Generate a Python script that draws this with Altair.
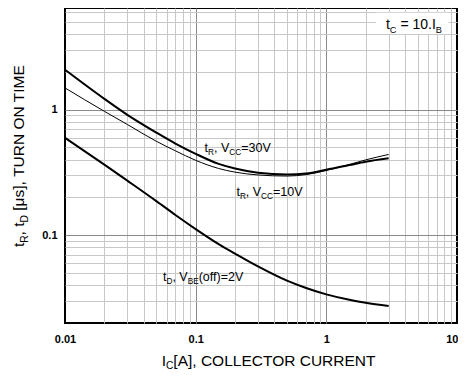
import altair as alt
import pandas as pd

# ---------------- data ----------------
ic = [0.01, 0.02, 0.03, 0.05, 0.07, 0.1, 0.15, 0.2, 0.3, 0.5, 0.7, 1.0, 1.5, 2.0, 3.0]
tr_30v = [2.08, 1.22, 0.91, 0.657, 0.537, 0.445, 0.37, 0.34, 0.315, 0.305, 0.31, 0.332, 0.362, 0.385, 0.41]
tr_10v = [1.49, 0.97, 0.762, 0.56, 0.47, 0.395, 0.34, 0.318, 0.302, 0.296, 0.304, 0.328, 0.366, 0.398, 0.44]
td_2v = [0.596, 0.365, 0.272, 0.187, 0.145, 0.112, 0.085, 0.0715, 0.0565, 0.0435, 0.038, 0.0338, 0.0306, 0.029, 0.0273]

x_grid = [0.01, 0.02, 0.03, 0.04, 0.05, 0.06, 0.07, 0.08, 0.09,
          0.1, 0.2, 0.3, 0.4, 0.5, 0.6, 0.7, 0.8, 0.9,
          1, 2, 3, 4, 5, 6, 7, 8, 9, 10]
y_grid = [0.02, 0.03, 0.04, 0.05, 0.06, 0.07, 0.08, 0.09,
          0.1, 0.2, 0.3, 0.4, 0.5, 0.6, 0.7, 0.8, 0.9,
          1, 2, 3, 4, 5, 6]
x_domain = [0.01, 10]
y_domain = [0.02, 6.45]

# annotation texts: list of (text, is_subscript) segments, anchored in data units
lbl_30v = [("t", False), ("R", True), (", V", False), ("CC", True), ("=30V", False)]
lbl_30v_pos = (0.117, 0.462)
lbl_10v = [("t", False), ("R", True), (", V", False), ("CC", True), ("=10V", False)]
lbl_10v_pos = (0.205, 0.207)
lbl_td = [("t", False), ("D", True), (", V", False), ("BE", True), ("(off)=2V", False)]
lbl_td_pos = (0.0562, 0.0434)
lbl_tc = [("t", False), ("C", True), (" = 10.I", False), ("B", True)]
lbl_tc_pos = (2.86, 4.37)
tc_box = {"x": [2.4], "x2": [8.6], "y": [4.0], "y2": [5.9]}

x_title = [("I", False), ("C", True), ("[A], COLLECTOR CURRENT", False)]
y_title = [("t", False), ("R", True), (", t", False), ("D", True), (" [μs], TURN ON TIME", False)]

# ---------------- styling ----------------
FONT = "Liberation Sans"
W = {' ': 278, '!': 278, '(': 333, ')': 333, ',': 278, '.': 278, '=': 584, '[': 278, ']': 278,
     'A': 667, 'B': 667, 'C': 722, 'D': 722, 'E': 667, 'I': 278, 'L': 556, 'M': 833, 'N': 722,
     'O': 778, 'R': 722, 'T': 611, 'U': 722, 'V': 667, 't': 278, 'o': 556, 'f': 278, 's': 500,
     'μ': 576}


def text_width(s, size):
    return sum(W.get(c, 556) for c in s) / 1000.0 * size


xs = alt.Scale(type="log", domain=x_domain)
ys = alt.Scale(type="log", domain=y_domain, nice=False)

xaxis = alt.Axis(
    values=x_grid, format="~g",
    labelExpr="(datum.value == 0.01 || datum.value == 0.1 || datum.value == 1 || datum.value == 10) ? datum.label : ''",
    grid=True,
    gridColor={"condition": {"test": "datum.value == 0.1 || datum.value == 1", "value": "#8a8a8a"}, "value": "#c8c8c8"},
    gridOpacity={"condition": {"test": "datum.value == 0.01 || datum.value == 10", "value": 0}, "value": 1},
    labelAlign={"condition": {"test": "datum.value == 10", "value": "right"}, "value": "center"},
    labelOffset={"condition": {"test": "datum.value == 10", "value": 1}, "value": 0},
    gridWidth=1, ticks=False, domain=False, title=None,
    labelFont=FONT, labelFontSize=11, labelFontWeight="bold", labelColor="black",
    labelPadding=10, labelOverlap=False, labelFlush=False, labelBound=False,
)
yaxis = alt.Axis(
    values=y_grid, format="~g",
    labelExpr="(datum.value == 0.1 || datum.value == 1) ? datum.label : ''",
    grid=True,
    gridColor={"condition": {"test": "datum.value == 0.1 || datum.value == 1", "value": "#8a8a8a"}, "value": "#c8c8c8"},
    gridOpacity={"condition": {"test": "datum.value == 0.02", "value": 0}, "value": 1},
    gridWidth=1, ticks=False, domain=False, title=None,
    labelFont=FONT, labelFontSize=11, labelFontWeight="bold", labelColor="black",
    labelPadding=8, labelOverlap=False, labelFlush=False, labelBound=False,
)


def X(field):
    return alt.X(field, type="quantitative", scale=xs, axis=xaxis)


def Y(field):
    return alt.Y(field, type="quantitative", scale=ys, axis=yaxis)


def label_layers(segments, size, pos=None, pix=None, angle=0, center=False):
    """Draw a label made of normal / subscript pieces, one text mark per piece.
    Leading spaces are turned into offsets because SVG drops them."""
    sub_scale = 0.66
    widths = []
    for t, sub in segments:
        widths.append(text_width(t, size * sub_scale if sub else size))
    off = -sum(widths) / 2.0 if center else 0.0
    layers = []
    for (t, sub), w in zip(segments, widths):
        fs = size * sub_scale if sub else size
        stripped = t.lstrip(" ")
        lead = text_width(t[: len(t) - len(stripped)], fs)
        mk = dict(text=stripped, font=FONT, fontSize=fs, align="left", baseline="alphabetic",
                  dx=round(off + lead, 2), dy=round(size * 0.24, 2) if sub else 0, color="black")
        if angle:
            mk["angle"] = angle
        if pix is not None:
            df = pd.DataFrame({"a": [0]})
            enc = dict(x=alt.value(pix[0]), y=alt.value(pix[1]))
        else:
            df = pd.DataFrame({"x": [pos[0]], "y": [pos[1]]})
            enc = dict(x=X("x"), y=Y("y"))
        layers.append(alt.Chart(df).mark_text(**mk).encode(**enc))
        off += w
    return layers


curves = pd.DataFrame({"ic": ic, "tr30": tr_30v, "tr10": tr_10v, "td": td_2v})
base = alt.Chart(curves)

line_30 = base.mark_line(color="black", strokeWidth=2, interpolate="monotone").encode(x=X("ic"), y=Y("tr30"))
line_10 = base.mark_line(color="black", strokeWidth=1, interpolate="monotone").encode(x=X("ic"), y=Y("tr10"))
line_td = base.mark_line(color="black", strokeWidth=2, interpolate="monotone").encode(x=X("ic"), y=Y("td"))

box = alt.Chart(pd.DataFrame(tc_box)).mark_rect(color="white").encode(
    x=X("x"), x2="x2", y=Y("y"), y2="y2")

layers = [box, line_10, line_30, line_td]
layers += label_layers(lbl_30v, 12.5, pos=lbl_30v_pos)
layers += label_layers(lbl_10v, 12.5, pos=lbl_10v_pos)
layers += label_layers(lbl_td, 12.5, pos=lbl_td_pos)
layers += label_layers(lbl_tc, 14, pos=lbl_tc_pos)
layers += label_layers(x_title, 15.5, pix=(203.7, 357.5), center=True)
layers += label_layers(y_title, 15.5, pix=(-41, 148), angle=270, center=True)

chart = alt.layer(*layers).properties(
    width=392, height=315,
    autosize=alt.AutoSizeParams(type="none"),
    padding={"left": 57, "top": 0, "right": 1, "bottom": 47},
    background="white",
).configure_view(stroke="black", strokeWidth=2)

chart.save("out.html", embed_options={"renderer": "svg", "actions": False})
